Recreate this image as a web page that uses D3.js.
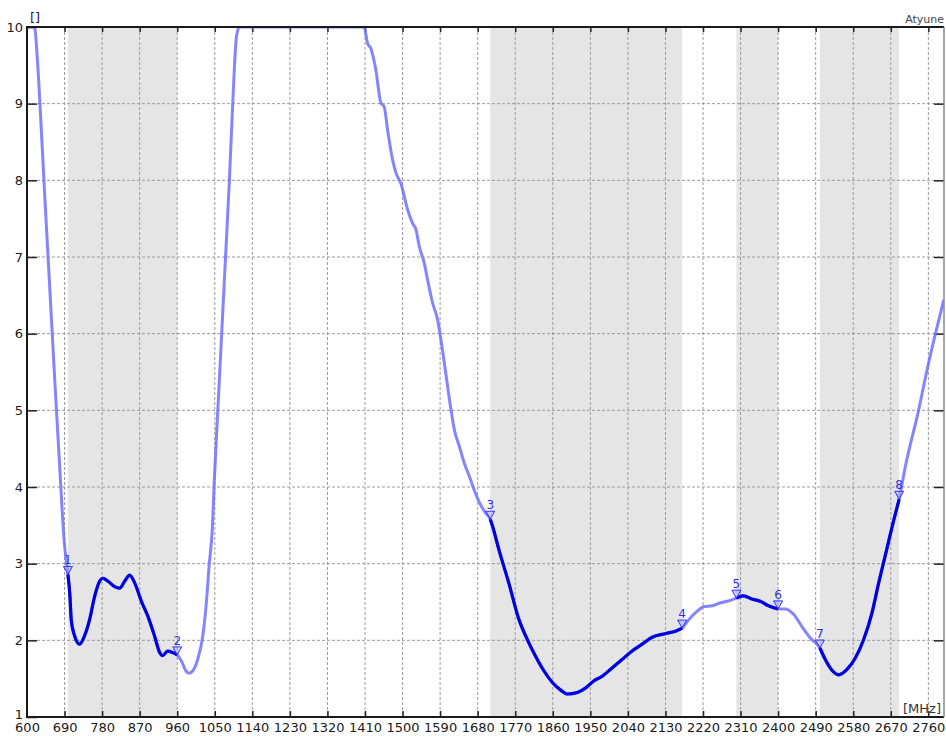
<!DOCTYPE html>
<html>
<head>
<meta charset="utf-8">
<script src="https://cdn.jsdelivr.net/npm/d3@7"></script>
<style>
  body { margin: 0; background: #fff; }
  svg { display: block; font-family: "DejaVu Sans", Verdana, sans-serif; }
  .grid line { stroke: #9a9a9a; stroke-dasharray: 3,2; stroke-width: 1; }
  .axis path { display: none; }
  .axis line { stroke: #222; stroke-width: 1.5; }
  .axis text { fill: #1a1a1a; font-size: 13px; font-family: "DejaVu Sans", Verdana, sans-serif; }
  .band { fill: #e5e5e5; }
  .trace-all { fill: none; stroke: #6f6fff; stroke-opacity: 0.85; stroke-width: 3; }
  .trace-band { fill: none; stroke: #0000e0; stroke-width: 3.2; }
  .marker path { fill: #a8a8ff; fill-opacity: 0.55; stroke: #3030ff; stroke-width: 1; }
  .marker text { fill: #3030e8; font-size: 12px; text-anchor: middle; }
</style>
</head>
<body>
<svg id="main-chart"></svg>
<script>
// frequency in MHz, return loss value
var freqs = [
  600, 618, 624, 631, 643, 655, 667, 679, 689, 698,
  703, 706, 714, 726, 738, 750, 762, 774, 782, 794,
  810, 822, 834, 846, 858, 874, 890, 906, 918, 925,
  937, 949, 960, 970, 981, 988, 997, 1009, 1021, 1029,
  1037, 1044, 1049, 1061, 1073, 1085, 1093, 1102, 1109, 1408,
  1416, 1424, 1436, 1448, 1456, 1464, 1476, 1484, 1496, 1512,
  1524, 1532, 1540, 1552, 1560, 1572, 1584, 1592, 1600, 1608,
  1616, 1624, 1636, 1648, 1660, 1671, 1683, 1699, 1710, 1715,
  1731, 1755, 1779, 1799, 1819, 1839, 1859, 1879, 1895, 1919,
  1939, 1958, 1978, 2002, 2026, 2050, 2074, 2098, 2131, 2154,
  2170, 2186, 2206, 2222, 2242, 2262, 2278, 2300, 2317, 2337,
  2357, 2377, 2400, 2417, 2437, 2457, 2477, 2500, 2513, 2529,
  2545, 2565, 2585, 2605, 2625, 2641, 2660, 2674, 2690, 2705,
  2737, 2757, 2777, 2797
];
var values = [
  10, 10, 9.65, 9.0, 7.75, 6.55, 5.35, 4.2, 3.3, 2.86,
  2.57, 2.27, 2.06, 1.95, 2.06, 2.27, 2.57, 2.77, 2.81, 2.77,
  2.70, 2.68, 2.77, 2.85, 2.75, 2.51, 2.31, 2.05, 1.84, 1.80,
  1.86, 1.84, 1.81, 1.73, 1.60, 1.57, 1.60, 1.75, 2.05, 2.44,
  3.01, 3.44, 4.1, 5.4, 6.7, 8.0, 9.0, 9.88, 10, 10,
  9.79, 9.72, 9.44, 9.01, 8.96, 8.66, 8.27, 8.10, 7.96, 7.62,
  7.44, 7.36, 7.14, 6.92, 6.70, 6.40, 6.18, 5.92, 5.62, 5.31,
  5.01, 4.75, 4.53, 4.31, 4.14, 3.97, 3.81, 3.66, 3.58, 3.50,
  3.18, 2.74, 2.27, 2.01, 1.79, 1.60, 1.45, 1.35, 1.30, 1.32,
  1.38, 1.47, 1.53, 1.64, 1.75, 1.86, 1.95, 2.04, 2.09, 2.12,
  2.16, 2.27, 2.38, 2.44, 2.45, 2.49, 2.51, 2.55, 2.58, 2.54,
  2.51, 2.45, 2.41, 2.41, 2.34, 2.18, 2.03, 1.90, 1.75, 1.61,
  1.55, 1.62, 1.77, 2.01, 2.36, 2.75, 3.18, 3.50, 3.84, 4.27,
  5.01, 5.53, 6.0, 6.44
];
var markerFreqs = [698, 960, 1710, 2170, 2300, 2400, 2500, 2690];
var xTicks = [600, 690, 780, 870, 960, 1050, 1140, 1230, 1320, 1410, 1500,
  1590, 1680, 1770, 1860, 1950, 2040, 2130, 2220, 2310, 2400, 2490, 2580,
  2670, 2760];
var yTicks = [1, 2, 3, 4, 5, 6, 7, 8, 9, 10];

var data = freqs.map((f, i) => ({ f: f, v: values[i] }));

var width = 946;
var height = 736;
var margins = { top: 27, right: 2, bottom: 19, left: 27 };
var chartWidth = width - margins.left - margins.right;
var chartHeight = height - margins.top - margins.bottom;

var svg = d3.select("#main-chart").attr("width", width).attr("height", height);

var chartElement = svg
  .append("g")
  .attr("transform", `translate(${margins.left},${margins.top})`);

var xScale = d3.scaleLinear().domain([600, 2797.5]).range([0, chartWidth]);
var yScale = d3.scaleLinear().domain([1, 10]).range([chartHeight, 0]);

svg.append("defs")
  .append("clipPath")
  .attr("id", "plot-clip")
  .append("rect")
  .attr("width", chartWidth)
  .attr("height", chartHeight);

// Bands between marker pairs
var bandPairs = d3.range(0, markerFreqs.length, 2).map(i => [markerFreqs[i], markerFreqs[i + 1]]);

chartElement
  .append("g")
  .selectAll("rect")
  .data(bandPairs)
  .enter()
  .append("rect")
  .attr("class", "band")
  .attr("x", d => xScale(d[0]))
  .attr("width", d => xScale(d[1]) - xScale(d[0]))
  .attr("y", 0)
  .attr("height", chartHeight);

// Grid
chartElement
  .append("g")
  .attr("class", "grid")
  .selectAll("line")
  .data(xTicks.slice(1))
  .enter()
  .append("line")
  .attr("x1", d => xScale(d))
  .attr("x2", d => xScale(d))
  .attr("y1", 0)
  .attr("y2", chartHeight);

chartElement
  .append("g")
  .attr("class", "grid")
  .selectAll("line")
  .data(yTicks.slice(1, -1))
  .enter()
  .append("line")
  .attr("x1", 0)
  .attr("x2", chartWidth)
  .attr("y1", d => yScale(d))
  .attr("y2", d => yScale(d));

// Axes, ticks pointing inward
chartElement
  .append("g")
  .attr("class", "x axis")
  .attr("transform", `translate(0,${chartHeight})`)
  .call(d3.axisBottom(xScale).tickValues(xTicks).tickFormat(d => d).tickSizeInner(-6).tickSizeOuter(0).tickPadding(6))
  .selectAll("line")
  .filter(d => d == 600)
  .remove();

chartElement
  .append("g")
  .attr("class", "x axis")
  .call(d3.axisTop(xScale).tickValues(xTicks.slice(1)).tickSizeInner(-5).tickSizeOuter(0).tickFormat(""));

chartElement
  .append("g")
  .attr("class", "y axis")
  .call(d3.axisLeft(yScale).tickValues(yTicks).tickSizeInner(-10).tickSizeOuter(0).tickPadding(4))
  .selectAll("text")
  .attr("dy", d => (d == 1 ? "0.1em" : "0.32em"));

chartElement
  .append("g")
  .attr("class", "y axis")
  .attr("transform", `translate(${chartWidth},0)`)
  .call(d3.axisRight(yScale).tickValues(yTicks.slice(1, -1)).tickSizeInner(-10).tickSizeOuter(0).tickFormat(""));

// Traces
var line = d3
  .line()
  .x(d => xScale(d.f))
  .y(d => yScale(d.v))
  .curve(d3.curveMonotoneX);

var traces = chartElement.append("g").attr("clip-path", "url(#plot-clip)");

traces.append("path").attr("class", "trace-all").attr("d", line(data));

traces
  .selectAll(".trace-band")
  .data(bandPairs)
  .enter()
  .append("path")
  .attr("class", "trace-band")
  .attr("d", p => line(data.filter(d => d.f >= p[0] && d.f <= p[1])));

// Frame
chartElement.append("line").attr("x1", 0).attr("x2", chartWidth).attr("y1", 0).attr("y2", 0)
  .attr("stroke", "#1a1a1a").attr("stroke-width", 2);
chartElement.append("line").attr("x1", 0).attr("x2", chartWidth).attr("y1", chartHeight).attr("y2", chartHeight)
  .attr("stroke", "#1a1a1a").attr("stroke-width", 2);
chartElement.append("line").attr("x1", 0).attr("x2", 0).attr("y1", -1).attr("y2", chartHeight + 1)
  .attr("stroke", "#1a1a1a").attr("stroke-width", 2);
chartElement.append("line").attr("x1", chartWidth).attr("x2", chartWidth).attr("y1", 0).attr("y2", chartHeight)
  .attr("stroke", "#8a8a8a").attr("stroke-width", 1.5);

// Markers
var markers = chartElement
  .append("g")
  .selectAll("g")
  .data(markerFreqs.map(f => data.find(d => d.f == f)))
  .enter()
  .append("g")
  .attr("class", "marker")
  .attr("transform", d => `translate(${xScale(d.f)},${yScale(d.v)})`);

markers.append("path").attr("d", "M0,0L-4.5,-8L4.5,-8Z");
markers.append("text").attr("y", -10).text((d, i) => i + 1);

// Labels
svg.append("text").attr("x", 30).attr("y", 22).attr("fill", "#1a1a50")
  .style("font-size", "13px").text("[]");
svg.append("text").attr("x", 944).attr("y", 23).attr("fill", "#444")
  .attr("text-anchor", "end").style("font-size", "11px").text("Atyune");
svg.append("text").attr("x", 941).attr("y", 713).attr("fill", "#333")
  .attr("text-anchor", "end").style("font-size", "13px").text("[MHz]");
</script>
</body>
</html>
